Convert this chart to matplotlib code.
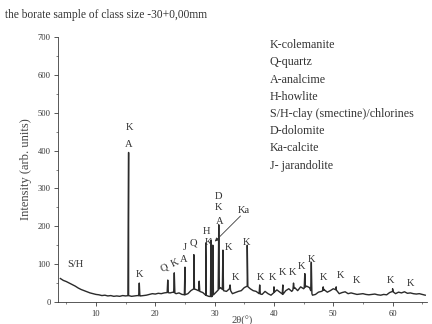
import numpy as np
import matplotlib.pyplot as plt
from matplotlib.ticker import MultipleLocator

plt.rcParams['font.family'] = ['Liberation Serif', 'DejaVu Serif']

# background of the pattern, read every 0.5 degree from 4.0 to 65.5
two_theta = np.arange(4.0, 65.75, 0.5)
background = [62, 57, 54, 50, 46, 42, 37, 33, 30, 27,
              24, 22, 20, 19, 17, 18, 16, 17, 15, 16,
              15, 17, 16, 17, 15, 16, 17, 16, 17, 18,
              20, 22, 21, 23, 22, 24, 25, 24, 26, 22,
              24, 20, 19, 22, 30, 35, 32, 28, 25, 18,
              15, 14, 22, 30, 38, 30, 28, 35, 22, 25,
              28, 30, 38, 42, 35, 30, 28, 22, 20, 28,
              22, 18, 25, 32, 26, 20, 30, 35, 28, 38,
              30, 40, 35, 42, 38, 18, 20, 26, 28, 32,
              26, 30, 35, 32, 22, 25, 27, 22, 24, 22,
              20, 21, 22, 20, 19, 20, 21, 19, 18, 20,
              19, 25, 28, 22, 26, 24, 27, 23, 24, 22,
              21, 22, 20, 18]

# sharp reflections
peak_pos = [15.5, 17.3, 22.1, 23.2, 25.0, 26.5, 27.4, 28.5, 29.4, 29.7,
            30.7, 31.4, 32.6, 35.5, 37.6, 40.0, 41.5, 43.3, 45.2, 46.3,
            48.3, 50.5, 60.0]
peak_int = [395, 50, 58, 77, 92, 125, 55, 156, 164, 150,
            204, 137, 45, 150, 45, 40, 45, 50, 75, 105,
            40, 40, 35]

# phase labels over the peaks
label_text = ['S/H', 'K', 'A', 'K', 'Q', 'K', 'A', 'J', 'Q', 'H', 'K',
              'D', 'K', 'A', 'Ka', 'K', 'K', 'K',
              'K', 'K', 'K', 'K', 'K', 'K',
              'K', 'K', 'K', 'K', 'K']
label_x = [6.5, 15.6, 15.6, 17.3, 21.6, 23.3, 24.8, 25.0, 26.5, 28.7, 28.9,
           30.7, 30.7, 30.9, 35.0, 32.3, 35.3, 33.5,
           37.7, 39.7, 41.4, 43.1, 44.7, 46.4,
           48.3, 51.2, 54.0, 59.7, 63.1]
label_y = [98, 462, 416, 72, 90, 103, 112, 145, 156, 186, 156,
           279, 249, 212, 241, 143, 156, 64,
           66, 66, 77, 79, 93, 111,
           64, 69, 58, 58, 50]

legend_lines = ['K-colemanite', 'Q-quartz', 'A-analcime', 'H-howlite',
                'S/H-clay (smectine)/chlorines', 'D-dolomite', 'Ka-calcite',
                'J- jarandolite']

# put the spikes into the background trace
xs = list(two_theta)
ys = list(background)
for p, h in zip(peak_pos, peak_int):
    for dx in (-0.1, 0.1):
        xs.append(p + dx)
        ys.append(np.interp(p + dx, two_theta, background))
    xs.append(p)
    ys.append(h)
order = np.argsort(xs)
xs = np.array(xs)[order]
ys = np.array(ys)[order]

fig = plt.figure(figsize=(6, 4.5), dpi=72)
ax = fig.add_axes([58 / 432, 22 / 324, 369 / 432, 265 / 324])

ax.plot(xs, ys, color='#2b2b2b', lw=1.4)

ax.set_xlim(3.6, 65.8)
ax.set_ylim(0, 700)
ax.xaxis.set_major_locator(MultipleLocator(10))
ax.xaxis.set_minor_locator(MultipleLocator(5))
ax.yaxis.set_major_locator(MultipleLocator(100))
ax.yaxis.set_minor_locator(MultipleLocator(50))
ax.tick_params(direction='out', which='major', length=4, labelsize=8.5, colors='#333333')
ax.tick_params(direction='out', which='minor', length=2, colors='#333333')
for s in ['top', 'right']:
    ax.spines[s].set_visible(False)
for s in ['left', 'bottom']:
    ax.spines[s].set_color('#333333')

ax.set_ylabel('Intensity (arb. units)', fontsize=12.5, color='#444444', labelpad=5)
ax.set_xlabel('2θ(°)', fontsize=10.5, color='#444444', labelpad=-2)

for t, x, y in zip(label_text, label_x, label_y):
    rot = 25 if t in ('Q', 'K') and x in (21.6, 23.3) else 0
    ax.text(x, y, t, fontsize=10.5, ha='center', va='center', color='#333333', rotation=rot)

ax.annotate('', xy=(29.8, 156), xytext=(34.6, 231),
            arrowprops=dict(arrowstyle='-|>', color='#333333', lw=0.8, mutation_scale=7))

fig.text(5 / 432, 1 - 15 / 324, 'the borate sample of class size -30+0,00mm',
         fontsize=11.5, va='center', color='#333333')

legend_y = [45, 62, 80, 97, 114, 131, 148, 166]
for t, y in zip(legend_lines, legend_y):
    fig.text(270 / 432, 1 - y / 324, t, fontsize=12, va='center', color='#333333')

fig.savefig('out.png', dpi=72)
